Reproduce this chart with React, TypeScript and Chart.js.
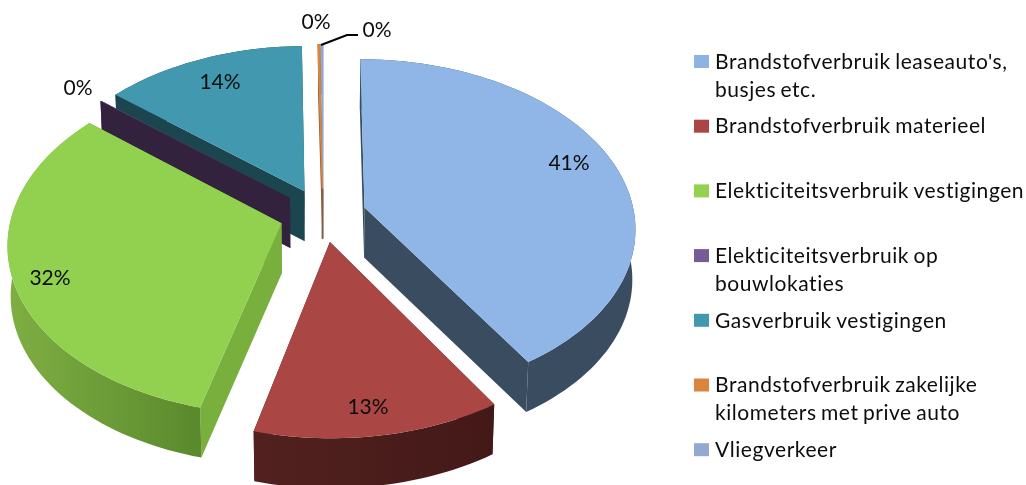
import React, { useEffect, useRef } from "react";
import { Chart, registerables } from "chart.js";

Chart.register(...registerables);

const categories = [
  ["Brandstofverbruik leaseauto's,", "busjes etc."],
  ["Brandstofverbruik materieel"],
  ["Elekticiteitsverbruik vestigingen"],
  ["Elekticiteitsverbruik op", "bouwlokaties"],
  ["Gasverbruik vestigingen"],
  ["Brandstofverbruik zakelijke", "kilometers met prive auto"],
  ["Vliegverkeer"],
];
const values = [41, 13, 32, 0.05, 13.65, 0.15, 0.15];
const topColors = ["#8FB6E6", "#AA4644", "#92D14F", "#785A96", "#4198AF", "#DB843D", "#93A9CF"];
const legendColors = ["#8DB3E2", "#AA4644", "#94D14F", "#775A96", "#4198AF", "#DB843D", "#93A9CF"];
const rimColors = [
  ["#3A4D60", "#3A4D60"],
  ["#52211F", "#431918"],
  ["#7FAF42", "#5A892E"],
  ["#32223E", "#32223E"],
  ["#1B454F", "#1B454F"],
  ["#8B5B33", "#8B5B33"],
  ["#6F7F9F", "#6F7F9F"],
];
const cutColors = ["#3A4D60", "#52211F", "#79AF3C", "#32223E", "#1B454F", "#8B5B33", "#6F7F9F"];
const labelCentres = [
  [569, 163],
  [368, 407],
  [50, 278],
  [78, 88],
  [220, 82],
  [316, 22],
  [377, 30],
];

const SCALE_X = 270;
const SCALE_Y = 167;
const PERSPECTIVE = 0.115;
const DEPTH = 50;
const BOTTOM_SHRINK = 0.99;
const THIN_LIMIT = 0.5;
const FONT = "Lato, sans-serif";
const TEXT = "#0D0D0D";

const pie3d = {
  id: "pie3d",
  beforeDatasetDraw() {
    return false;
  },
  afterDatasetsDraw(chart: any) {
    const ctx = chart.ctx;
    const arcs = chart.getDatasetMeta(0).data as any[];
    const project = (arc: any, u: number, v: number) => {
      const den = 1 - PERSPECTIVE * v;
      return [arc.x + (SCALE_X * u) / den, arc.y + (SCALE_Y * v) / den];
    };
    const shapes = arcs.map((arc, i) => {
      const off = arc.options.offset / arc.outerRadius;
      const mid = (arc.startAngle + arc.endAngle) / 2;
      const ou = Math.cos(mid) * off;
      const ov = Math.sin(mid) * off;
      const rim: number[][] = [];
      const steps = Math.max(2, Math.ceil((arc.endAngle - arc.startAngle) / 0.03));
      for (let s = 0; s <= steps; s++) {
        const a = arc.startAngle + ((arc.endAngle - arc.startAngle) * s) / steps;
        rim.push(project(arc, ou + Math.cos(a), ov + Math.sin(a)));
      }
      return { i, ov, cx: arc.x, apex: project(arc, ou, ov), rim };
    });
    const poly = (pts: number[][], fill: any) => {
      ctx.beginPath();
      pts.forEach((p, k) => (k ? ctx.lineTo(p[0], p[1]) : ctx.moveTo(p[0], p[1])));
      ctx.closePath();
      ctx.fillStyle = fill;
      ctx.fill();
    };
    const seg = (a: number[], b: number[], colour: string) => {
      ctx.beginPath();
      ctx.moveTo(a[0], a[1]);
      ctx.lineTo(b[0], b[1]);
      ctx.strokeStyle = colour;
      ctx.lineWidth = 1.6;
      ctx.stroke();
    };
    [...shapes]
      .sort((a, b) => a.ov - b.ov)
      .forEach(({ i, cx, apex, rim }) => {
        const down = (p: number[]) => [cx + (p[0] - cx) * BOTTOM_SHRINK, p[1] + DEPTH];
        const xs = rim.map((p) => p[0]);
        const first = rim[0];
        const last = rim[rim.length - 1];
        poly([apex, first, down(first), down(apex)], cutColors[i]);
        poly([apex, last, down(last), down(apex)], cutColors[i]);
        const grad = ctx.createLinearGradient(Math.min(...xs), 0, Math.max(...xs), 0);
        grad.addColorStop(0, rimColors[i][0]);
        grad.addColorStop(1, rimColors[i][1]);
        poly([...rim, ...[...rim].reverse().map(down)], grad);
        poly([apex, ...rim], topColors[i]);
        if (values[i] < THIN_LIMIT && i > 3) {
          const edge = i === 5 ? first : last;
          seg(edge, apex, topColors[i]);
          seg(apex, down(apex), cutColors[i]);
        }
      });

    const total = values.reduce((a, b) => a + b, 0);
    ctx.font = `21px ${FONT}`;
    ctx.fillStyle = TEXT;
    ctx.textAlign = "center";
    ctx.textBaseline = "middle";
    values.forEach((v, i) => {
      ctx.fillText(`${Math.round((v / total) * 100)}%`, labelCentres[i][0], labelCentres[i][1]);
    });
    ctx.beginPath();
    ctx.moveTo(321, 45);
    ctx.lineTo(347, 35);
    ctx.lineTo(358, 35);
    ctx.strokeStyle = "#000000";
    ctx.lineWidth = 2;
    ctx.stroke();
  },
  afterDraw(chart: any) {
    const ctx = chart.ctx;
    ctx.save();
    ctx.font = `21px ${FONT}`;
    ctx.textAlign = "left";
    ctx.textBaseline = "middle";
    (ctx as any).letterSpacing = "0.55px";
    (ctx as any).wordSpacing = "-1.5px";
    categories.forEach((lines, i) => {
      const y = 62 + i * 64.7;
      ctx.fillStyle = legendColors[i];
      ctx.fillRect(694, y - 7, 15, 13);
      ctx.fillStyle = TEXT;
      lines.forEach((line, k) => ctx.fillText(line, 715, y + k * 28));
    });
    ctx.restore();
  },
};

export default function App() {
  const ref = useRef<HTMLCanvasElement>(null);
  useEffect(() => {
    const chart = new Chart(ref.current!, {
      type: "pie",
      data: {
        labels: categories.map((c) => c.join(" ")),
        datasets: [{ data: values, backgroundColor: topColors, borderWidth: 0, offset: 32 }],
      },
      options: {
        responsive: false,
        animation: false,
        events: [],
        outerRadius: 200,
        layout: { padding: { right: 380, bottom: 55 } },
        plugins: { legend: { display: false }, tooltip: { enabled: false } },
      } as any,
      plugins: [pie3d as any],
    });
    return () => chart.destroy();
  }, []);
  return (
    <div style={{ position: "fixed", left: 0, top: 0, width: 1026, height: 485, background: "#fff" }}>
      <canvas ref={ref} width={1026} height={485} style={{ display: "block" }} />
    </div>
  );
}
